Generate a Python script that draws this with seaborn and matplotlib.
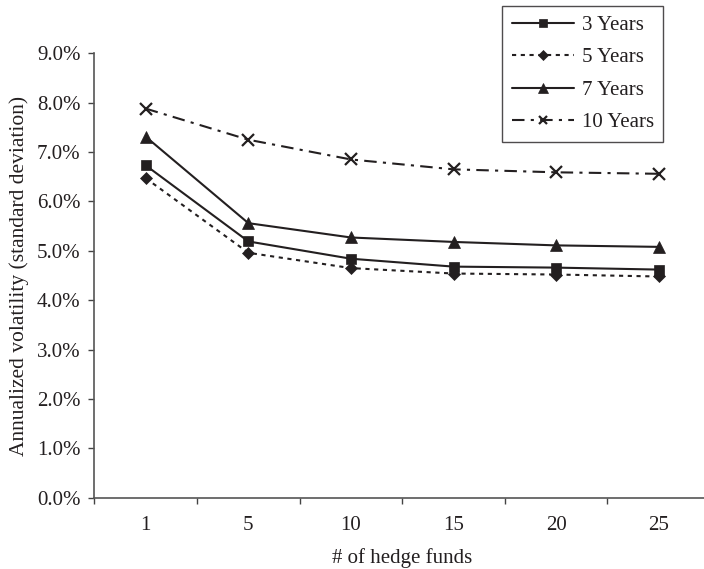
import matplotlib
matplotlib.use("Agg")
import matplotlib.pyplot as plt
import seaborn as sns
import pandas as pd
from matplotlib.ticker import FuncFormatter, FixedLocator, NullFormatter

funds = ["1", "5", "10", "15", "20", "25"]
y3 = [6.73, 5.19, 4.84, 4.68, 4.66, 4.62]
y5 = [6.47, 4.96, 4.65, 4.54, 4.52, 4.48]
y7 = [7.31, 5.56, 5.27, 5.18, 5.11, 5.08]
y10 = [7.88, 7.25, 6.85, 6.65, 6.59, 6.56]
series_names = ["3 Years", "5 Years", "7 Years", "10 Years"]

sns.set_theme(style="ticks")
plt.rcParams["font.family"] = ["Liberation Serif", "DejaVu Serif"]

FS = 15
INK = "#231f20"

fig = plt.figure(figsize=(7.04, 5.69), dpi=100)
ax = fig.add_axes([0.1342, 0.1253, 0.8744, 0.7810])

styles = [
    dict(marker="s", linestyle="-", ms=7),
    dict(marker="D", linestyle=(0, (2, 2.2)), ms=6),
    dict(marker="^", linestyle="-", ms=8.5),
    dict(marker="x", linestyle=(0, (6, 3, 1.5, 3)), ms=8),
]
for name, vals, st in zip(series_names, [y3, y5, y7, y10], styles):
    df = pd.DataFrame({"pos": range(len(funds)), "vol": vals})
    sns.lineplot(data=df, x="pos", y="vol", ax=ax, color=INK,
                 linewidth=1.5, marker=st["marker"], linestyle=st["linestyle"],
                 markersize=st["ms"], markeredgecolor=INK,
                 markeredgewidth=1.6 if st["marker"] == "x" else 0.5,
                 label=name, clip_on=False)

ax.set_xlim(-0.5, len(funds) - 0.5)
ax.set_ylim(0, 9)
ax.set_yticks([i for i in range(10)])
ax.yaxis.set_major_formatter(FuncFormatter(lambda v, p: f"{v:.1f}%"))
ax.xaxis.set_major_locator(FixedLocator([i - 0.5 for i in range(len(funds) + 1)]))
ax.xaxis.set_major_formatter(NullFormatter())
ax.set_xticks(range(len(funds)), funds, minor=True)
ax.tick_params(axis="x", which="minor", length=0, pad=13.5, labelsize=FS, colors=INK)
ax.tick_params(axis="x", which="major", length=4.5, width=1, color="#444444")
ax.tick_params(axis="y", length=4.5, width=1, color="#444444", labelsize=FS, labelcolor=INK, pad=5.5)

for s in ["top", "right"]:
    ax.spines[s].set_visible(False)
for s in ["left", "bottom"]:
    ax.spines[s].set_color("#555555")
    ax.spines[s].set_linewidth(1.2)

ax.set_xlabel("# of hedge funds", fontsize=FS, color=INK, labelpad=9)
ax.set_ylabel("Annualized volatility (standard deviation)", fontsize=FS + 0.5, color=INK, labelpad=6)

leg = ax.legend(loc="upper right", bbox_to_anchor=(663 / 704, 1 - 6 / 569), bbox_transform=fig.transFigure,
                frameon=True, fancybox=False, edgecolor=INK, fontsize=FS,
                handlelength=3.0, numpoints=1, borderpad=0.45, labelspacing=0.62,
                handletextpad=0.35, borderaxespad=0, markerscale=0.8)
leg.get_frame().set_linewidth(1)
for t in leg.get_texts():
    t.set_color(INK)

fig.savefig("out.png", dpi=100)
